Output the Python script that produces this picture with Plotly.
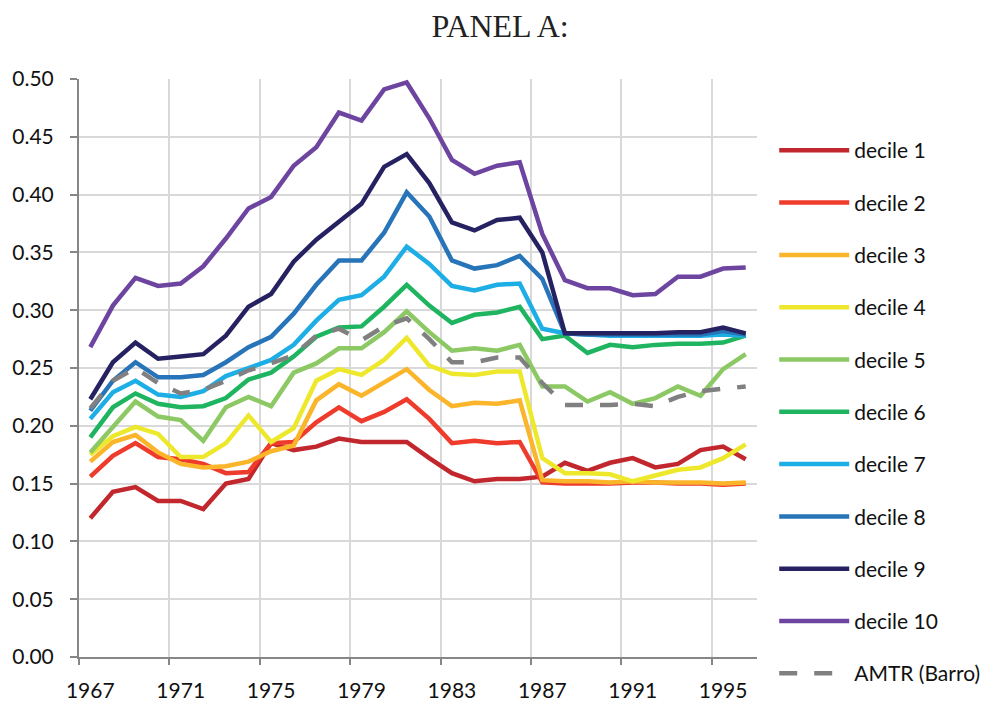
import plotly.graph_objects as go

years = list(range(1967, 1997))

decile_1 = [0.120, 0.143, 0.147, 0.135, 0.135, 0.128, 0.150, 0.154, 0.185, 0.179,
            0.182, 0.189, 0.186, 0.186, 0.186, 0.172, 0.159, 0.152, 0.154, 0.154,
            0.156, 0.168, 0.161, 0.168, 0.172, 0.164, 0.167, 0.179, 0.182, 0.171]
decile_2 = [0.156, 0.174, 0.185, 0.173, 0.171, 0.167, 0.159, 0.160, 0.185, 0.186,
            0.203, 0.216, 0.204, 0.212, 0.223, 0.206, 0.185, 0.187, 0.185, 0.186,
            0.151, 0.150, 0.150, 0.150, 0.151, 0.151, 0.150, 0.150, 0.149, 0.150]
decile_3 = [0.169, 0.186, 0.192, 0.177, 0.167, 0.164, 0.165, 0.169, 0.178, 0.183,
            0.222, 0.236, 0.226, 0.237, 0.249, 0.231, 0.217, 0.220, 0.219, 0.222,
            0.153, 0.152, 0.152, 0.151, 0.152, 0.151, 0.151, 0.151, 0.150, 0.151]
decile_4 = [0.175, 0.191, 0.199, 0.193, 0.173, 0.173, 0.185, 0.209, 0.186, 0.198,
            0.239, 0.249, 0.244, 0.257, 0.276, 0.252, 0.245, 0.244, 0.247, 0.247,
            0.172, 0.159, 0.159, 0.158, 0.152, 0.157, 0.162, 0.164, 0.172, 0.184]
decile_5 = [0.177, 0.199, 0.221, 0.208, 0.205, 0.187, 0.216, 0.225, 0.217, 0.246,
            0.254, 0.267, 0.267, 0.281, 0.299, 0.281, 0.265, 0.267, 0.265, 0.270,
            0.234, 0.234, 0.221, 0.229, 0.219, 0.224, 0.234, 0.226, 0.249, 0.262]
decile_6 = [0.190, 0.216, 0.228, 0.219, 0.216, 0.217, 0.224, 0.240, 0.246, 0.260,
            0.277, 0.285, 0.286, 0.303, 0.322, 0.304, 0.289, 0.296, 0.298, 0.303,
            0.275, 0.278, 0.263, 0.270, 0.268, 0.270, 0.271, 0.271, 0.272, 0.278]
decile_7 = [0.206, 0.229, 0.239, 0.227, 0.225, 0.230, 0.243, 0.250, 0.257, 0.270,
            0.291, 0.309, 0.313, 0.329, 0.355, 0.340, 0.321, 0.317, 0.322, 0.323,
            0.284, 0.280, 0.279, 0.278, 0.278, 0.278, 0.278, 0.278, 0.279, 0.278]
decile_8 = [0.213, 0.239, 0.255, 0.242, 0.242, 0.244, 0.255, 0.268, 0.277, 0.297,
            0.322, 0.343, 0.343, 0.367, 0.402, 0.381, 0.343, 0.336, 0.339, 0.347,
            0.327, 0.280, 0.279, 0.279, 0.279, 0.279, 0.279, 0.279, 0.282, 0.279]
decile_9 = [0.223, 0.255, 0.272, 0.258, 0.260, 0.262, 0.278, 0.303, 0.314, 0.342,
            0.361, 0.376, 0.392, 0.424, 0.435, 0.410, 0.376, 0.369, 0.378, 0.380,
            0.350, 0.280, 0.280, 0.280, 0.280, 0.280, 0.281, 0.281, 0.285, 0.280]
decile_10 = [0.268, 0.304, 0.328, 0.321, 0.323, 0.338, 0.362, 0.388, 0.398, 0.425,
             0.441, 0.471, 0.464, 0.491, 0.497, 0.466, 0.430, 0.418, 0.425, 0.428,
             0.366, 0.326, 0.319, 0.319, 0.313, 0.314, 0.329, 0.329, 0.336, 0.337]
amtr_barro = [0.215, 0.239, 0.250, 0.237, 0.228, 0.231, 0.239, 0.248, 0.254, 0.261,
              0.278, 0.284, 0.274, 0.286, 0.293, 0.275, 0.255, 0.255, 0.259, 0.259,
              0.237, 0.218, 0.218, 0.218, 0.219, 0.217, 0.225, 0.230, 0.232, 0.234]

series = [
    ("decile 1", decile_1, "#c1272d"),
    ("decile 2", decile_2, "#ef3b2c"),
    ("decile 3", decile_3, "#fbb52a"),
    ("decile 4", decile_4, "#eee82c"),
    ("decile 5", decile_5, "#8cc864"),
    ("decile 6", decile_6, "#1fb45f"),
    ("decile 7", decile_7, "#1eaee6"),
    ("decile 8", decile_8, "#2774b8"),
    ("decile 9", decile_9, "#262262"),
    ("decile 10", decile_10, "#6d45a0"),
]

tick_years = [1967, 1971, 1975, 1979, 1983, 1987, 1991, 1995]
grid_positions = [y - 0.5 for y in tick_years]

fig = go.Figure()
for i, (name, vals, col) in enumerate(series):
    fig.add_trace(go.Scatter(x=years, y=vals, name=name, mode="lines",
                             line=dict(color=col, width=4.5),
                             legendgroup=f"g{i}"))
fig.add_trace(go.Scatter(x=years, y=amtr_barro, name="AMTR (Barro)", mode="lines",
                         line=dict(color="#808080", width=4.5, dash="18px,17px"),
                         legendgroup="g10"))

axis_font = dict(family="Lato, Carlito, sans-serif", size=21, color="#111111")

fig.update_layout(
    width=987, height=694,
    paper_bgcolor="white", plot_bgcolor="white",
    margin=dict(l=71, r=238, t=71, b=45, autoexpand=False),
    title=dict(text="PANEL A:", x=0.4985, xanchor="center", y=0.975, yanchor="middle",
               font=dict(family="Liberation Serif, serif", size=32, color="#222222")),
    showlegend=True,
    legend=dict(xref="container", yref="container", x=0.7763, y=0.824,
                xanchor="left", yanchor="top", maxheight=650,
                font=axis_font, itemwidth=70, tracegroupgap=22,
                bgcolor="rgba(0,0,0,0)"),
    font=axis_font,
)

fig.update_xaxes(
    range=[1966.5, 1996.5], automargin=False,
    tickmode="array", tickvals=tick_years, ticktext=[str(y) for y in tick_years],
    ticks="", showgrid=False, zeroline=False,
    showline=True, linecolor="#868686", linewidth=2,
    tickfont=axis_font, ticklabelstandoff=14,
    minor=dict(tickmode="array", tickvals=grid_positions, showgrid=True,
               gridcolor="#d9d9d9", gridwidth=2, ticks="outside", ticklen=6,
               tickcolor="#868686", tickwidth=2),
)
fig.update_yaxes(
    range=[0, 0.5], tickmode="array", automargin=False,
    tickvals=[i * 0.05 for i in range(11)],
    tickformat=".2f", showgrid=True, gridcolor="#d9d9d9", gridwidth=2,
    zeroline=False, showline=True, linecolor="#868686", linewidth=2,
    ticks="outside", ticklen=7, tickcolor="#868686", tickwidth=2,
    tickfont=axis_font, ticklabelstandoff=12,
)

fig.write_html("out.html")
